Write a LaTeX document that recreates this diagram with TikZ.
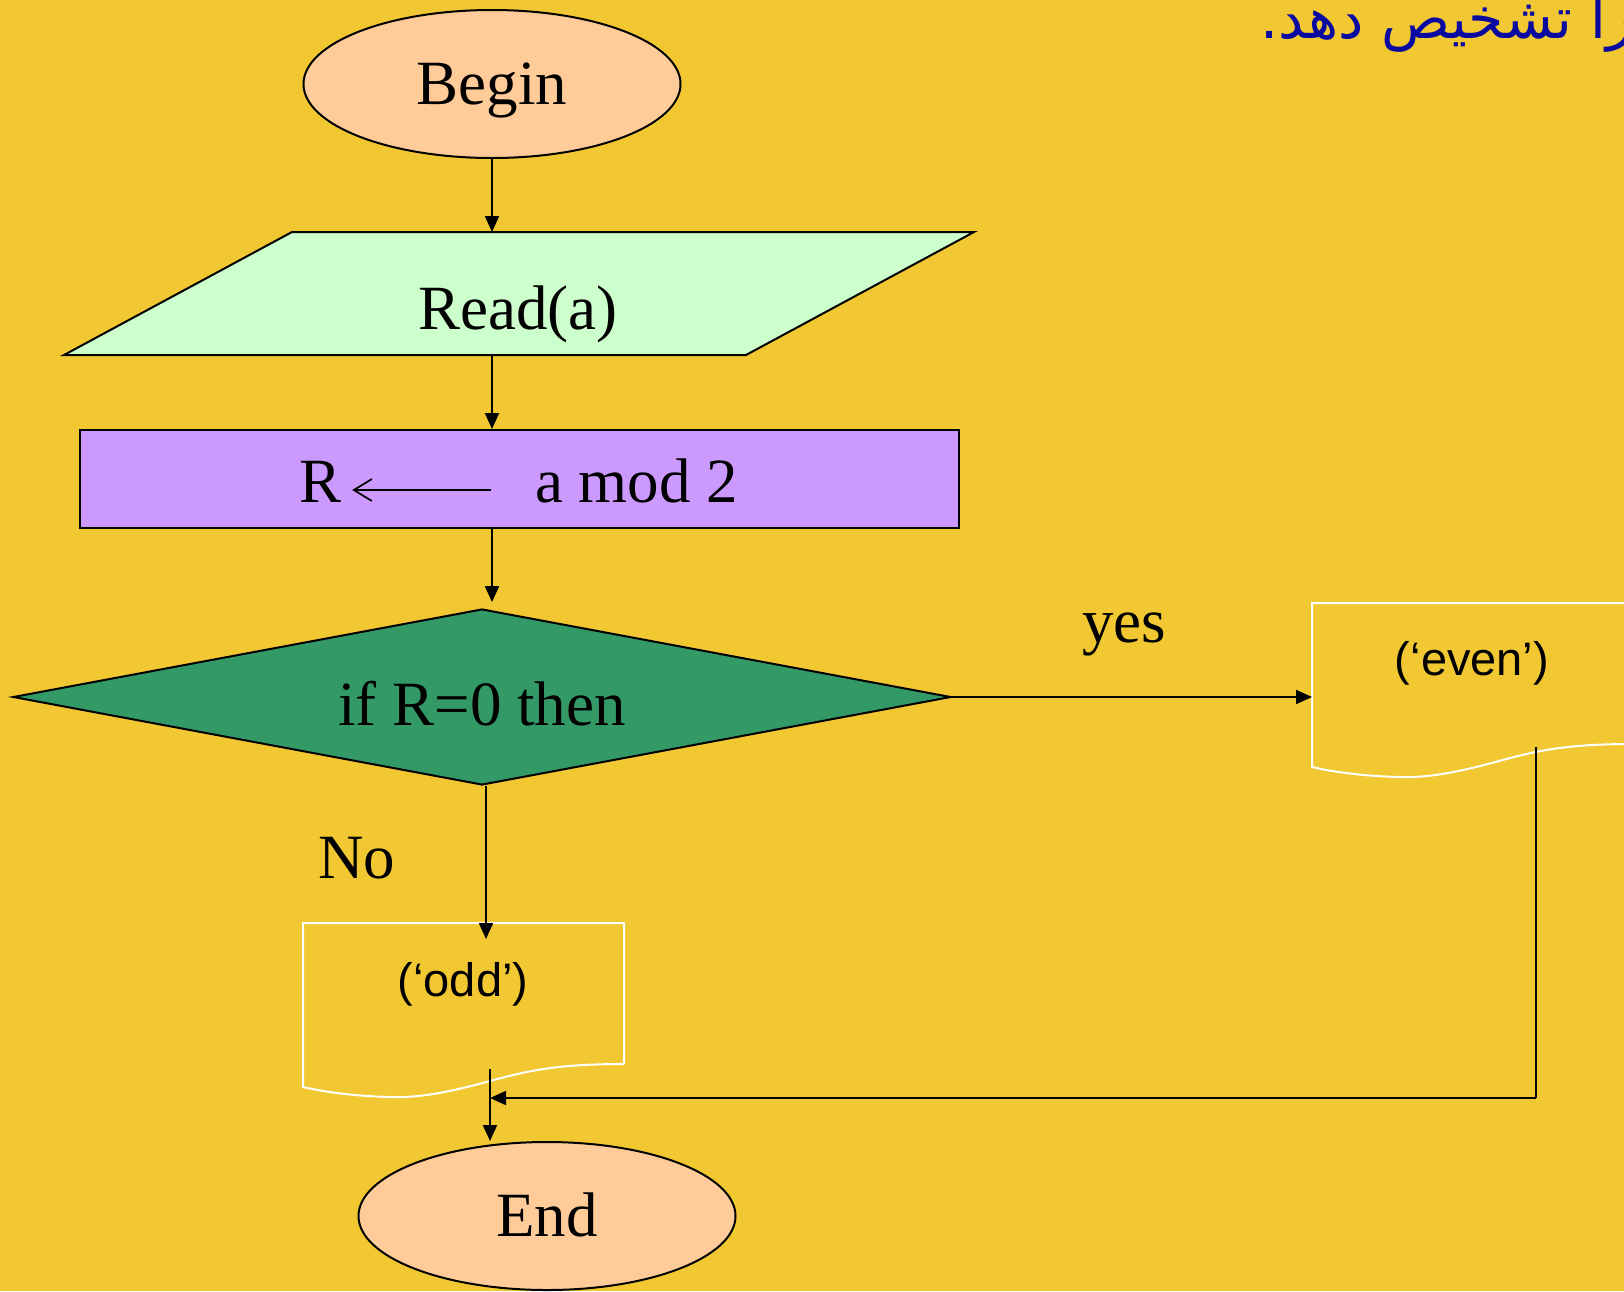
\documentclass[tikz,border=0pt]{standalone}
\usepackage{fontspec}
\setmainfont{Liberation Serif}
\newfontfamily\labelsans{Liberation Sans}
\newfontfamily\farsi[Script=Arabic]{DejaVu Sans}
\TeXXeTstate=1
\usetikzlibrary{shapes.geometric,arrows.meta}

\definecolor{bg}{RGB}{242,200,50}
\definecolor{termfill}{RGB}{255,204,153}
\definecolor{iofill}{RGB}{204,255,204}
\definecolor{procfill}{RGB}{204,153,255}
\definecolor{decfill}{RGB}{51,153,102}
\definecolor{titleblue}{RGB}{10,10,160}

\tikzset{
  outline/.style={draw=black, line width=2pt},
  terminal/.style={outline, ellipse, fill=termfill, inner sep=0pt,
    minimum width=377pt, minimum height=148pt},
  procbox/.style={outline, rectangle, fill=procfill, inner sep=0pt,
    minimum width=879pt, minimum height=98pt},
  decision/.style={outline, diamond, fill=decfill, inner sep=0pt,
    minimum width=938pt, minimum height=176pt},
  serif/.style={inner sep=0pt, anchor=base, font=\fontsize{63}{70}\selectfont},
  sanslabel/.style={inner sep=0pt, anchor=base, font=\labelsans\fontsize{47}{52}\selectfont},
  flow/.style={line width=2pt, draw=black},
  arr/.style={flow, -{Triangle[length=16pt,width=14pt]}},
  docedge/.style={draw=white, line width=2pt},
  assign/.style={line width=1.7pt, -{Straight Barb[length=18pt,width=22pt]}}
}

% document (print) symbol with a wavy bottom edge, top-left corner at the origin
\newcommand{\docshape}{%
  \draw[docedge] (321,141) -- (321,0) -- (0,0) -- (0,164)
    .. controls (17,168) and (47,173) .. (87,174)
    .. controls (117,175) and (147,169) .. (187,158)
    .. controls (227,147) and (257,141) .. (321,141);}

\begin{document}
\begin{tikzpicture}[x=1pt,y=-1pt]
  \useasboundingbox (0,0) rectangle (1624,1291);
  \fill[bg] (0,0) rectangle (1624,1291);

  % heading fragment
  \node[inner sep=0pt, anchor=base east, text=titleblue,
        font=\farsi\fontsize{57}{64}\selectfont] (heading) at (1634,38)
        {\beginR را تشخیص دهد.\endR};

  % start
  \node[terminal] (begin) at (492,84) {};
  \node[serif] (begintxt) at (492,104) {Begin};

  % input
  \draw[outline, fill=iofill] (292,232) -- (974,232) -- (746,355) -- (64,355) -- cycle;
  \coordinate (readtop) at (519,232);
  \coordinate (readbot) at (405,355);
  \node[serif] (readtxt) at (518,329) {Read(a)};

  % assignment
  \node[procbox] (proc) at (519.5,479) {};
  \node[serif] (rvar) at (321,502) {R};
  \node[serif] (modexpr) at (636.5,502) {a mod 2};
  \draw[assign] ([xshift=-44pt, yshift=12pt]modexpr.base west) -- ([xshift=10pt, yshift=12pt]rvar.base east);

  % decision
  \node[decision] (cond) at (482,697) {};
  \node[serif] (condtxt) at (482,725) {if R=0 then};

  % outputs
  \begin{scope}[shift={(1312,603)}]
    \docshape
  \end{scope}
  \coordinate (evenwest) at (1312,680);
  \coordinate (evenout) at (1536,747);
  \node[sanslabel] (eventxt) at (1472,675) {(‘even’)};

  \begin{scope}[shift={(303,923)}]
    \docshape
  \end{scope}
  \coordinate (oddin) at (486,939);
  \coordinate (oddout) at (490,1069);
  \node[sanslabel] (oddtxt) at (463,996) {(‘odd’)};

  % end
  \node[terminal] (end) at (547,1216) {};
  \node[serif] (endtxt) at (547,1236) {End};

  % branch labels
  \node[serif] (yes) at (1124,642) {yes};
  \node[serif] (no) at (357,878) {No};

  % connectors
  \draw[arr] (begin.south) -- (begin.south |- readtop);
  \draw[arr] (begin.south |- readbot) -- (begin.south |- proc.north);
  \draw[arr, shorten >=6pt] (begin.south |- proc.south) -- (begin.south |- cond.north);
  \draw[arr] (cond.east) -- (cond.east -| evenwest);
  \draw[arr] (cond.south -| oddin) -- (oddin);
  \coordinate (joint) at (1536,1098);
  \draw[flow] (evenout) -- (joint);
  \draw[arr] (joint) -- (joint -| oddout);
  \draw[arr] (oddout) -- (oddout |- end.north);
\end{tikzpicture}
\end{document}
